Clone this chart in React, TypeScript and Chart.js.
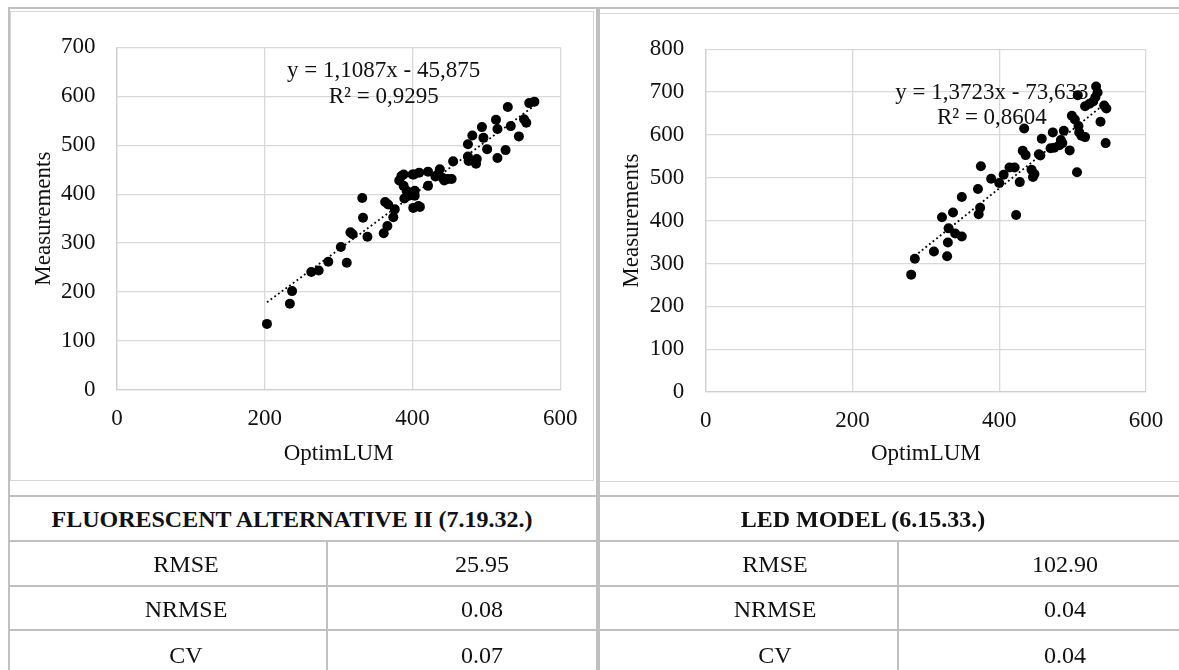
import React, { useEffect, useRef } from 'react';
import { Chart, registerables } from 'chart.js';

Chart.register(...registerables);

const FONT = "'Liberation Serif', 'Times New Roman', serif";

// ---------- data ----------
const xTickValues = [0, 200, 400, 600];
const xAxisTitle = 'OptimLUM';
const yAxisTitle = 'Measurements';

const fluorescentX = [203, 234, 237, 263, 273, 286, 303, 311, 316, 319, 332, 333, 339, 361, 363, 366, 367, 374, 376, 382, 385, 388, 388, 389, 392, 395, 400, 401, 402, 403, 403, 408, 409, 410, 421, 421, 431, 434, 437, 441, 443, 448, 453, 455, 475, 475, 476, 481, 486, 487, 494, 496, 501, 513, 515, 515, 526, 529, 533, 544, 551, 554, 558, 565];
const fluorescentY = [135, 176, 202, 241, 244, 262, 292, 260, 322, 318, 392, 352, 313, 320, 384, 335, 379, 353, 369, 428, 437, 440, 417, 391, 407, 397, 440, 372, 440, 397, 407, 376, 444, 374, 446, 417, 436, 440, 451, 433, 428, 431, 431, 467, 502, 477, 468, 520, 462, 472, 537, 515, 492, 552, 533, 474, 490, 578, 539, 518, 553, 546, 586, 589];
const fluorescentSlope = 1.1087;
const fluorescentIntercept = -45.875;
const fluorescentEquation = ['y = 1,1087x - 45,875', 'R² = 0,9295'];
const fluorescentYMax = 700;

const ledX = [280, 285, 311, 322, 329, 330, 331, 337, 340, 349, 349, 371, 372, 374, 375, 389, 400, 406, 414, 421, 423, 428, 432, 434, 436, 444, 446, 448, 454, 456, 458, 470, 473, 475, 482, 484, 486, 488, 496, 499, 503, 506, 507, 508, 509, 512, 517, 517, 523, 528, 531, 532, 534, 538, 543, 545, 546];
const ledY = [274, 311, 328, 408, 317, 349, 382, 419, 370, 363, 455, 474, 415, 430, 527, 498, 488, 507, 524, 524, 413, 490, 563, 615, 553, 519, 502, 509, 555, 552, 591, 569, 606, 570, 576, 588, 581, 610, 564, 645, 636, 513, 693, 621, 606, 598, 595, 667, 673, 678, 688, 713, 699, 631, 669, 581, 662];
const ledSlope = 1.3723;
const ledIntercept = -73.633;
const ledEquation = ['y = 1,3723x - 73,633', 'R² = 0,8604'];
const ledYMax = 800;

const tableHeaders = ['FLUORESCENT ALTERNATIVE II (7.19.32.)', 'LED MODEL (6.15.33.)'];
const statLabels = ['RMSE', 'NRMSE', 'CV'];
const fluorescentStats = ['25.95', '0.08', '0.07'];
const ledStats = ['102.90', '0.04', '0.04'];

// ---------- chart ----------
type Cfg = {
  xs: number[];
  ys: number[];
  slope: number;
  intercept: number;
  equation: string[];
  eqPos: { x: number; y1: number; y2: number };
  yMax: number;
  pad: { left: number; right: number; top: number; bottom: number };
  yWidth: number;
  xHeight: number;
  width: number;
  height: number;
};

function Scatter({ cfg }: { cfg: Cfg }) {
  const ref = useRef<HTMLCanvasElement | null>(null);
  useEffect(() => {
    if (!ref.current) return;
    const points = cfg.xs.map((x, i) => ({ x, y: cfg.ys[i] }));
    const minX = Math.min(...cfg.xs);
    const maxX = Math.max(...cfg.xs);
    const trend = [
      { x: minX, y: cfg.slope * minX + cfg.intercept },
      { x: maxX, y: cfg.slope * maxX + cfg.intercept },
    ];
    const eqPlugin = {
      id: 'eq',
      beforeDatasetsDraw(chart: any) {
        const { ctx, scales } = chart;
        ctx.save();
        ctx.font = `23px ${FONT}`;
        ctx.fillStyle = '#111';
        ctx.textAlign = 'center';
        ctx.textBaseline = 'middle';
        const px = scales.x.getPixelForValue(cfg.eqPos.x);
        ctx.fillText(cfg.equation[0], px, scales.y.getPixelForValue(cfg.eqPos.y1));
        ctx.fillText(cfg.equation[1], px, scales.y.getPixelForValue(cfg.eqPos.y2));
        ctx.restore();
      },
    };
    const tickFont = { family: FONT, size: 23 };
    const chart = new Chart(ref.current, {
      type: 'scatter',
      data: {
        datasets: [
          {
            type: 'line',
            data: trend,
            borderColor: '#000',
            borderWidth: 1.8,
            borderDash: [1.8, 2.8],
            pointRadius: 0,
            fill: false,
            order: 0,
          } as any,
          {
            type: 'scatter',
            data: points,
            backgroundColor: '#000',
            borderColor: '#000',
            pointRadius: 5,
            borderWidth: 0,
            order: 1,
          },
        ],
      },
      options: {
        animation: false,
        responsive: false,
        maintainAspectRatio: false,
        events: [],
        layout: { padding: cfg.pad },
        plugins: { legend: { display: false }, tooltip: { enabled: false } },
        scales: {
          x: {
            type: 'linear',
            min: xTickValues[0],
            max: xTickValues[xTickValues.length - 1],
            afterBuildTicks: (s: any) => {
              s.ticks = xTickValues.map((v) => ({ value: v }));
            },
            ticks: { font: tickFont, color: '#111', padding: 15.5, maxRotation: 0 },
            grid: { color: '#d9d9d9', lineWidth: 1.3, drawTicks: false },
            border: { color: '#d0d0d0', width: 1.3 },
            title: { display: true, text: xAxisTitle, font: tickFont, color: '#111', padding: 0 },
            afterFit: (s: any) => {
              s.height = cfg.xHeight;
            },
          },
          y: {
            type: 'linear',
            min: 0,
            max: cfg.yMax,
            ticks: { font: tickFont, color: '#111', padding: 21.5, stepSize: 100 },
            grid: { color: '#d9d9d9', lineWidth: 1.3, drawTicks: false },
            border: { color: '#d0d0d0', width: 1.3 },
            title: { display: true, text: yAxisTitle, font: tickFont, color: '#111', padding: 0 },
            afterFit: (s: any) => {
              s.width = cfg.yWidth;
            },
          },
        },
      },
      plugins: [eqPlugin],
    });
    return () => chart.destroy();
  }, [cfg]);
  return <canvas ref={ref} width={cfg.width} height={cfg.height} style={{ width: cfg.width, height: cfg.height, display: 'block' }} />;
}

const leftCfg: Cfg = {
  xs: fluorescentX,
  ys: fluorescentY,
  slope: fluorescentSlope,
  intercept: fluorescentIntercept,
  equation: fluorescentEquation,
  eqPos: { x: 361, y1: 651, y2: 599 },
  yMax: fluorescentYMax,
  pad: { left: 19.6, right: 31, top: 19.7, bottom: 12.2 },
  yWidth: 86.4,
  xHeight: 77.8,
  width: 582,
  height: 468,
};

const rightCfg: Cfg = {
  xs: ledX,
  ys: ledY,
  slope: ledSlope,
  intercept: ledIntercept,
  equation: ledEquation,
  eqPos: { x: 390, y1: 699, y2: 639 },
  yMax: ledYMax,
  pad: { left: 19.2, right: 53, top: 21, bottom: 13.2 },
  yWidth: 87.5,
  xHeight: 75.8,
  width: 600,
  height: 467,
};

const GRAY = '#c0c0c0';

function Line({ l, t, w, h, c = GRAY }: { l: number; t: number; w: number; h: number; c?: string }) {
  return <div style={{ position: 'absolute', left: l, top: t, width: w, height: h, background: c }} />;
}

function Cell({ cx, cy, text, bold, size = 24 }: { cx: number; cy: number; text: string; bold?: boolean; size?: number }) {
  return (
    <div
      style={{
        position: 'absolute',
        left: cx - 300,
        width: 600,
        top: cy - 15,
        height: 30,
        lineHeight: '30px',
        textAlign: 'center',
        fontFamily: FONT,
        fontSize: size,
        fontWeight: bold ? 700 : 400,
        color: '#111',
        whiteSpace: 'nowrap',
      }}
    >
      {text}
    </div>
  );
}

export default function App() {
  const rowY = [564, 609, 655];
  return (
    <div style={{ position: 'relative', width: 1179, height: 670, overflow: 'hidden', background: '#fff' }}>
      <style>{'body{margin:0;}'}</style>
      {/* chart boxes */}
      <div style={{ position: 'absolute', left: 10, top: 11, width: 582, height: 468, border: '1px solid #d6d6d6' }} />
      <div style={{ position: 'absolute', left: 11, top: 12 }}>
        <Scatter cfg={leftCfg} />
      </div>
      <div style={{ position: 'absolute', left: 598, top: 13, width: 620, height: 467, border: '1px solid #d6d6d6' }} />
      <div style={{ position: 'absolute', left: 599, top: 14 }}>
        <Scatter cfg={rightCfg} />
      </div>
      {/* table borders */}
      <Line l={8} t={7} w={1200} h={2} />
      <Line l={8} t={7} w={2} h={700} />
      <Line l={596} t={7} w={4} h={700} />
      <Line l={8} t={495} w={1200} h={2} />
      <Line l={8} t={540} w={1200} h={2} />
      <Line l={8} t={585} w={1200} h={2} />
      <Line l={8} t={629} w={1200} h={2} />
      <Line l={326} t={540} w={2} h={200} />
      <Line l={897} t={540} w={2} h={200} />
      {/* table text */}
      <Cell cx={292} cy={519} text={tableHeaders[0]} bold size={24} />
      <Cell cx={863} cy={519} text={tableHeaders[1]} bold size={24} />
      {statLabels.map((s, i) => (
        <React.Fragment key={s}>
          <Cell cx={186} cy={rowY[i]} text={s} />
          <Cell cx={482} cy={rowY[i]} text={fluorescentStats[i]} />
          <Cell cx={775} cy={rowY[i]} text={s} />
          <Cell cx={1065} cy={rowY[i]} text={ledStats[i]} />
        </React.Fragment>
      ))}
    </div>
  );
}
